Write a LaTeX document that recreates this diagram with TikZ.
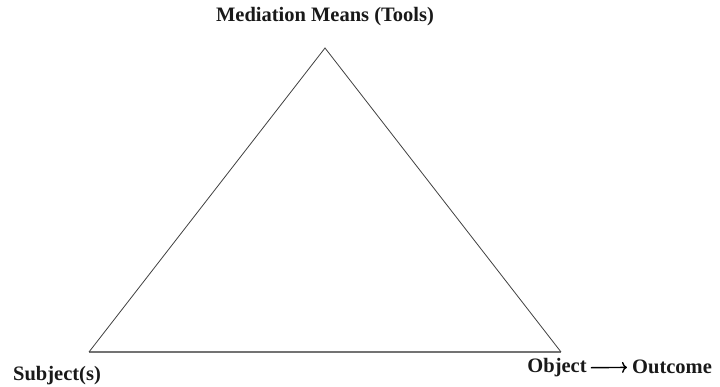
\documentclass[tikz,border=0pt]{standalone}
\usepackage{fontspec}
\setmainfont{Liberation Serif}
\usetikzlibrary{arrows.meta, positioning}

\begin{document}
\begin{tikzpicture}[
    x=1pt, y=-1pt,
    node distance=1cm,
    lbl/.style={font=\bfseries\fontsize{20.5}{24}\selectfont, inner sep=0pt, text=black!90},
    side/.style={draw=black!75, line width=0.8pt},
    base/.style={draw=black!55, line width=1.6pt},
    arrow/.style={line width=1.4pt, -{To[length=5pt, width=11pt]}}
]
    \useasboundingbox (0,0) rectangle (720,387);
    \coordinate (top) at (325,48);
    \coordinate (left) at (89,352);
    \coordinate (right) at (561,352);
    \node[lbl] (tools) at (325,17) {Mediation Means (Tools)};
    \node[lbl] (subject) at (57,376) {Subject(s)};
    \node[lbl] (object) at (557,368) {Object};
    \node[lbl] (outcome) at (672,367) {Outcome};
    \draw[base] (left) -- (right);
    \draw[side] (left) -- (top) -- (right);
    \draw[arrow, shorten <=4pt, shorten >=5pt] (object) -- (outcome);
\end{tikzpicture}
\end{document}
